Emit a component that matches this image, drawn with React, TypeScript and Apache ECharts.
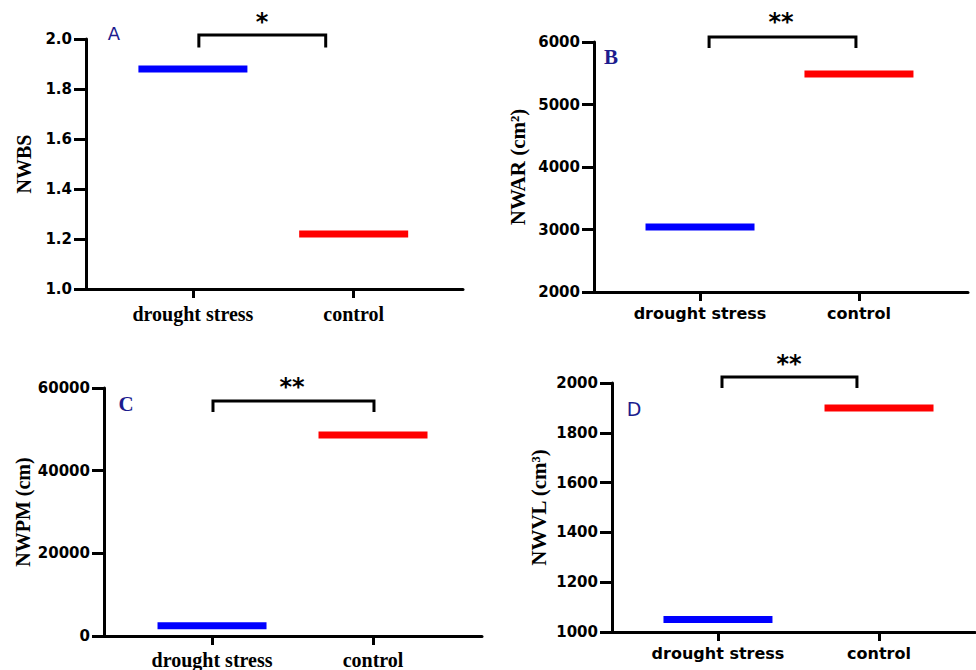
import React, { useEffect, useRef } from "react";
import * as echarts from "echarts";

// ---- data ----
const categories = ["drought stress", "control"];
const nwbs = [1.88, 1.22];
const nwar = [3040, 5490];
const nwpm = [2500, 48600];
const nwvl = [1050, 1900];

// y-axis scales [min, max, interval]
const scaleA = [1.0, 2.0, 0.2];
const scaleB = [2000, 6000, 1000];
const scaleC = [0, 60000, 20000];
const scaleD = [1000, 2000, 200];

// significance brackets: [xStart, xEnd, yTop, yBottom, starY]
const bracketA = [0.037, 0.826, 2.016, 1.966, 2.084];
const bracketB = [0.057, 0.981, 6080, 5904, 6384];
const bracketC = [0.006, 1.006, 56867, 54217, 61205];
const bracketD = [0.025, 0.863, 2024, 1980, 2092];
const stars = ["*", "**", "**", "**"];
const starX = [0.43, 0.51, 0.497, 0.441];

const titles = ["NWBS", "NWAR (cm²)", "NWPM (cm)", "NWVL (cm³)"];
const letters = ["A", "B", "C", "D"];

const SERIF = "'Liberation Serif', 'Times New Roman', serif";
const SANS = "'DejaVu Sans', Arial, sans-serif";

export default function App() {
  const ref = useRef<HTMLDivElement>(null);
  useEffect(() => {
    if (!ref.current) return;
    const chart = echarts.init(ref.current, null, { renderer: "svg" });

    const grids = [
      { left: 86, top: 39, width: 377, height: 250 },
      { left: 594, top: 42, width: 374, height: 250 },
      { left: 104, top: 388, width: 378, height: 249 },
      { left: 612, top: 383, width: 363, height: 249 },
    ];
    const xRanges = [
      [-0.665, 1.68],
      [-0.667, 1.686],
      [-0.671, 1.677],
      [-0.658, 1.596],
    ];
    const values = [nwbs, nwar, nwpm, nwvl];
    const scales = [scaleA, scaleB, scaleC, scaleD];
    const brackets = [bracketA, bracketB, bracketC, bracketD];
    const catFonts = [SERIF, SANS, SERIF, SANS];
    const catSizes = [20, 16, 20, 16];
    const catMargins = [15, 13, 14, 13];
    const nameGaps = [52, 66, 71, 63];
    const nameSizes = [20, 21, 20, 21];
    const letterPos = [
      [114, 33, SANS, 18, "normal"],
      [611, 57, SERIF, 21, "bold"],
      [126, 404, SERIF, 21, "bold"],
      [634, 409, SANS, 19, "normal"],
    ];

    const xAxis = grids.map((_, i) => ({
      type: "value",
      gridIndex: i,
      min: xRanges[i][0],
      max: xRanges[i][1],
      splitLine: { show: false },
      axisLine: { show: true, onZero: false, lineStyle: { color: "#000", width: 3 } },
      axisTick: { show: true, customValues: [0, 1], length: 9, lineStyle: { color: "#000", width: 3 } },
      axisLabel: {
        customValues: [0, 1],
        formatter: (v: number) => categories[Math.round(v)] ?? "",
        margin: catMargins[i],
        color: "#000",
        fontFamily: catFonts[i],
        fontWeight: "bold",
        fontSize: catSizes[i],
      },
    }));

    const yAxis = grids.map((_, i) => ({
      type: "value",
      gridIndex: i,
      min: scales[i][0],
      max: scales[i][1],
      interval: scales[i][2],
      name: titles[i],
      nameLocation: "middle",
      nameGap: nameGaps[i],
      nameTextStyle: {
        fontFamily: SERIF,
        fontWeight: "bold",
        fontSize: nameSizes[i],
        color: "#000",
      },
      splitLine: { show: false },
      axisLine: { show: true, onZero: false, lineStyle: { color: "#000", width: 3 } },
      axisTick: { show: true, length: 12, lineStyle: { color: "#000", width: 3 } },
      axisLabel: {
        margin: 14,
        color: "#000",
        fontFamily: SANS,
        fontWeight: "bold",
        fontSize: 15,
        formatter: (v: number) => (i === 0 ? v.toFixed(1) : String(v)),
      },
    }));

    const series: any[] = [];
    values.forEach((vals, i) => {
      series.push({
        type: "scatter",
        xAxisIndex: i,
        yAxisIndex: i,
        symbol: "rect",
        symbolSize: [109, 7],
        data: vals.map((v, k) => ({
          value: [k, v],
          itemStyle: { color: k === 0 ? "#0000ff" : "#ff0000", opacity: 1 },
        })),
        z: 3,
      });
      const b = brackets[i];
      series.push({
        type: "line",
        xAxisIndex: i,
        yAxisIndex: i,
        symbol: "none",
        clip: false,
        lineStyle: { color: "#000", width: 3, join: "miter" },
        data: [
          [b[0], b[3]],
          [b[0], b[2]],
          [b[1], b[2]],
          [b[1], b[3]],
        ],
      });
      series.push({
        type: "scatter",
        xAxisIndex: i,
        yAxisIndex: i,
        symbolSize: 1,
        clip: false,
        itemStyle: { color: "rgba(0,0,0,0)", opacity: 1 },
        label: {
          show: true,
          position: "inside",
          formatter: stars[i],
          fontFamily: SANS,
          fontWeight: "bold",
          fontSize: 24,
          color: "#000",
          textBorderWidth: 0,
          opacity: 1,
          offset: [0, 4],
        },
        data: [[starX[i], b[4]]],
      });
    });

    chart.setOption({
      animation: false,
      backgroundColor: "#fff",
      grid: grids,
      xAxis,
      yAxis,
      series,
      graphic: letterPos.map((p, i) => ({
        type: "text",
        x: p[0] as number,
        y: p[1] as number,
        style: {
          text: letters[i],
          fill: "#1c1c8e",
          font: `${p[4]} ${p[3]}px ${p[2]}`,
          textAlign: "center",
          textVerticalAlign: "middle",
        },
      })),
    });
    return () => chart.dispose();
  }, []);
  return (
    <div
      ref={ref}
      style={{ position: "absolute", left: 0, top: 0, width: 976, height: 670 }}
    />
  );
}
